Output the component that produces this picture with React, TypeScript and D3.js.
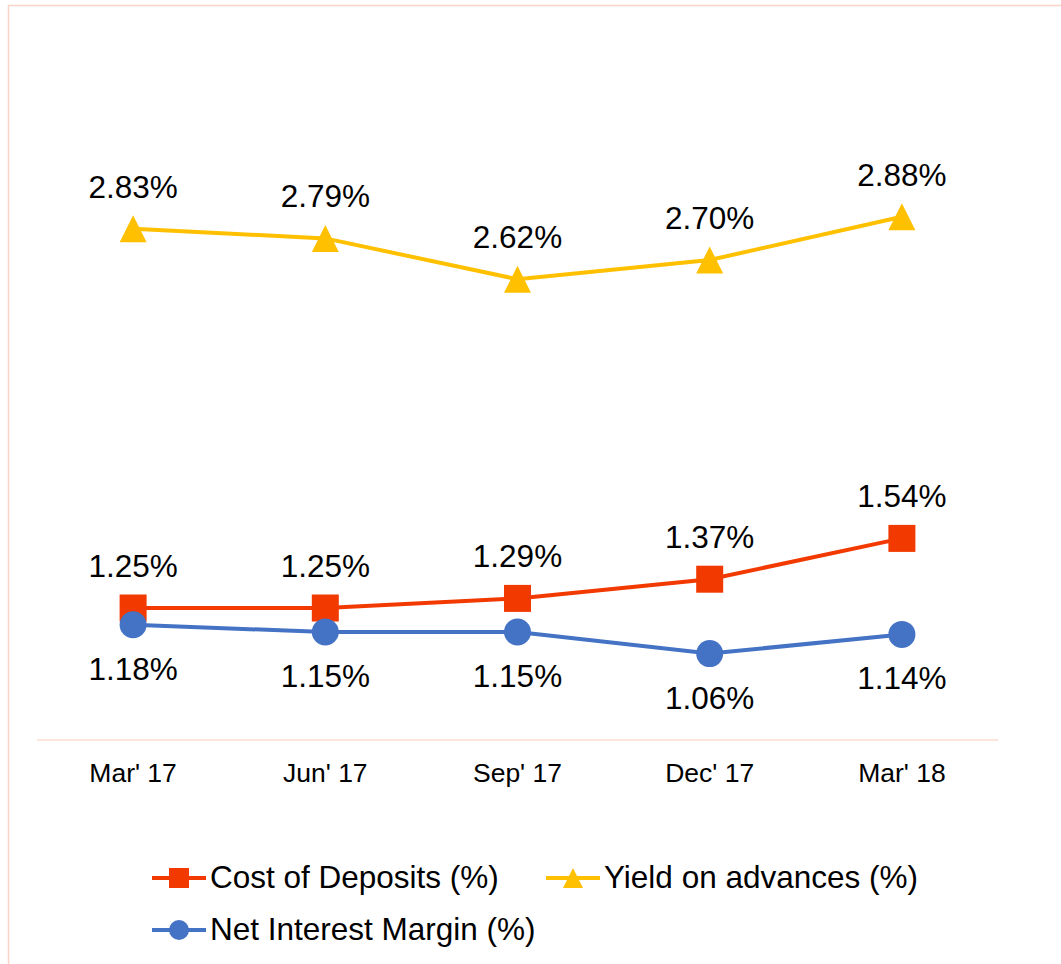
import React from "react";
import * as d3 from "d3";

const quarters = ["Mar' 17", "Jun' 17", "Sep' 17", "Dec' 17", "Mar' 18"];
const costOfDeposits = [1.25, 1.25, 1.29, 1.37, 1.54];
const yieldOnAdvances = [2.83, 2.79, 2.62, 2.7, 2.88];
const netInterestMargin = [1.18, 1.15, 1.15, 1.06, 1.14];

const W = 1061;
const H = 964;
const FONT = "'Liberation Sans', Arial, sans-serif";

const series = [
  { name: "Cost of Deposits (%)", values: costOfDeposits, color: "#F23A00", marker: "square", labelPos: "above" },
  { name: "Yield on advances (%)", values: yieldOnAdvances, color: "#FFC000", marker: "triangle", labelPos: "above" },
  { name: "Net Interest Margin (%)", values: netInterestMargin, color: "#4472C4", marker: "circle", labelPos: "below" },
];

function Marker({ type, x, y, size, color }: { type: string; x: number; y: number; size: number; color: string }) {
  const h = size / 2;
  if (type === "square") return <rect x={x - h} y={y - h} width={size} height={size} fill={color} />;
  if (type === "circle") return <circle cx={x} cy={y} r={h} fill={color} />;
  return <path d={`M${x},${y - h}L${x + h},${y + h}L${x - h},${y + h}Z`} fill={color} />;
}

export default function App() {
  const x = d3.scaleBand().domain(quarters).range([37, 998]);
  const y = d3.scaleLinear().domain([0.7, 3.2]).range([740, 140]);
  const cx = (q: string) => (x(q) as number) + x.bandwidth() / 2;

  const line = d3
    .line<number>()
    .x((_, i) => cx(quarters[i]))
    .y((d) => y(d));

  const legend = [
    { s: series[0], lx: 152, ly: 878 },
    { s: series[1], lx: 546, ly: 878 },
    { s: series[2], lx: 152, ly: 930 },
  ];

  return (
    <svg width={W} height={H} style={{ position: "absolute", left: 0, top: 0 }} fontFamily={FONT}>
      <rect x={0} y={0} width={W} height={H} fill="#fff" />
      <rect x={8.5} y={5.5} width={W + 20} height={H + 20} fill="none" stroke="#FAD3C6" strokeWidth={1.5} />

      {/* axis */}
      <line x1={37} x2={998} y1={740} y2={740} stroke="#FDDCD1" strokeWidth={1.5} />
      {quarters.map((q) => (
        <text key={q} x={cx(q)} y={782} textAnchor="middle" fontSize={26.5} fill="#000">
          {q}
        </text>
      ))}

      {series.map((s) => (
        <g key={s.name}>
          <path d={line(s.values) || ""} fill="none" stroke={s.color} strokeWidth={4} />
          {s.values.map((v, i) => (
            <Marker key={i} type={s.marker} x={cx(quarters[i])} y={y(v)} size={27} color={s.color} />
          ))}
          {s.values.map((v, i) => (
            <text
              key={"t" + i}
              x={cx(quarters[i])}
              y={s.labelPos === "above" ? y(v) - 31 : y(v) + 55}
              textAnchor="middle"
              fontSize={31.5}
              fill="#000"
            >
              {v.toFixed(2)}%
            </text>
          ))}
        </g>
      ))}

      {legend.map(({ s, lx, ly }) => (
        <g key={s.name}>
          <line x1={lx} x2={lx + 54} y1={ly} y2={ly} stroke={s.color} strokeWidth={4} />
          <Marker type={s.marker} x={lx + 27} y={ly} size={20} color={s.color} />
          <text x={lx + 58} y={ly + 10} fontSize={31.5} fill="#000">
            {s.name}
          </text>
        </g>
      ))}
    </svg>
  );
}
